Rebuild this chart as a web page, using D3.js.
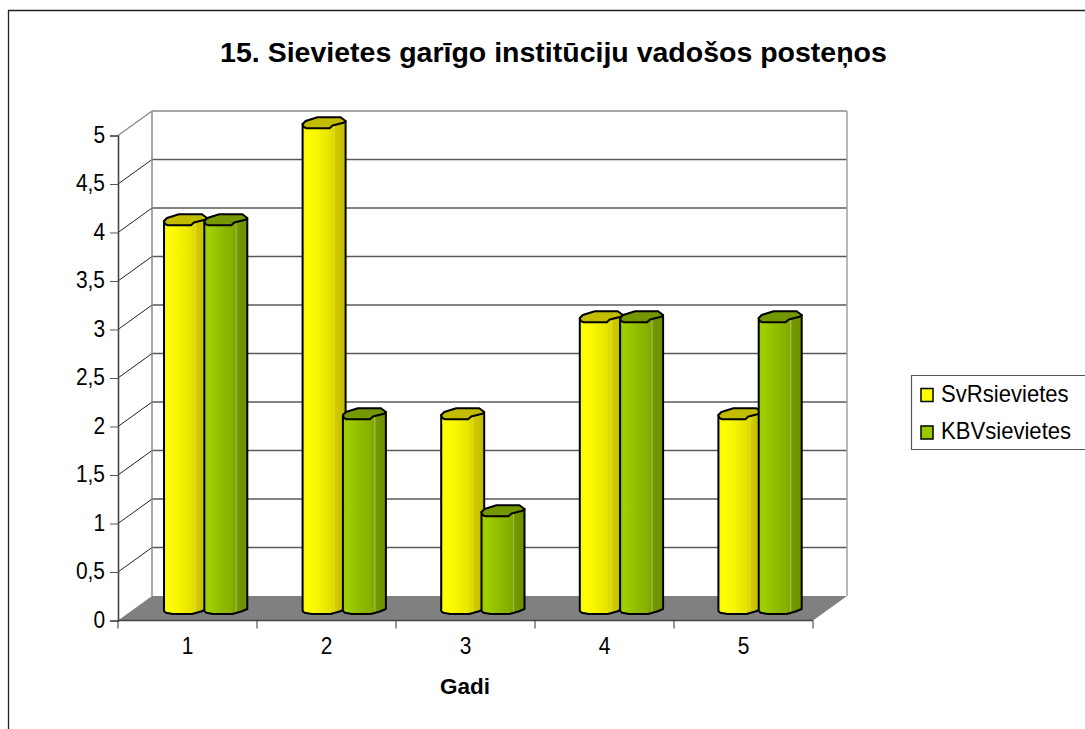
<!DOCTYPE html>
<html><head><meta charset="utf-8">
<script src="https://cdn.jsdelivr.net/npm/d3@7"></script>
<style>html,body{margin:0;padding:0;background:#fff;overflow:hidden}svg{display:block}text{font-family:"Liberation Sans",Arial,sans-serif;fill:#000}</style>
</head><body><svg id="c" width="1085" height="729"></svg>
<script>
const categories = ["1","2","3","4","5"];
const seriesNames = ["SvRsievietes","KBVsievietes"];
const svrValues = [4,5,2,3,2];
const kbvValues = [4,2,1,3,3];
const yTicks = [0,0.5,1,1.5,2,2.5,3,3.5,4,4.5,5];
const titleText = "15. Sievietes garīgo institūciju vadošos posteņos";
const xTitle = "Gadi";

const svg = d3.select("#c");
const x = d3.scaleBand().domain(categories).range([118,813]);
const xBar = d3.scaleBand().domain(categories).range([164,857]);
const y = d3.scaleLinear().domain([0,5]).range([620.5,135.5]);
const dx = 34, dy = -24.5;
const fmt = v => String(v).replace(".",",");

// frame
svg.append("path").attr("d","M8.5,729V10.5H1085").attr("fill","none").attr("stroke","#222").attr("stroke-width",1.3);

// gradients
const defs = svg.append("defs");
function grad(id,stops){
  const g = defs.append("linearGradient").attr("id",id);
  stops.forEach(s=>g.append("stop").attr("offset",s[0]).attr("stop-color",s[1]));
}
grad("gy",[[0,"#f8f800"],[.1,"#ffff00"],[.35,"#f6f500"],[.62,"#e8e400"],[.72,"#dcd800"],[.74,"#e2dc30"],[.76,"#d0cb00"],[1,"#c2bc00"]]);
grad("gg",[[0,"#98c800"],[.1,"#a0d000"],[.35,"#92bf00"],[.62,"#88b000"],[.72,"#80a600"],[.74,"#a8c050"],[.77,"#749800"],[1,"#6c9000"]]);
const topCol = ["#c2bc00","#749900"];

// back wall + floor
const [x0,x1] = x.range();
svg.append("path").attr("d",`M${x0},${y(0)}L${x0+dx},${y(0)+dy}H${x1+dx}L${x1},${y(0)}Z`).attr("fill","#808080");
const wall = svg.append("g").attr("fill","none");
yTicks.forEach(t=>{
  const py=y(t)+dy;
  if(t>0) wall.append("line").attr("x1",x0+dx).attr("x2",x1+dx).attr("y1",py).attr("y2",py).attr("stroke",t===5?"#8a8a8a":"#5a5a5a").attr("stroke-width",1.4);
  if(t>0) wall.append("line").attr("x1",x0).attr("x2",x0+dx).attr("y1",y(t)).attr("y2",py).attr("stroke",t===5?"#8a8a8a":"#222").attr("stroke-width",t===5?1.4:1);
});
wall.append("line").attr("x1",x0+dx).attr("x2",x0+dx).attr("y1",y(5)+dy).attr("y2",y(0)+dy).attr("stroke","#8a8a8a").attr("stroke-width",1.5);
wall.append("line").attr("x1",x1+dx).attr("x2",x1+dx).attr("y1",y(5)+dy).attr("y2",y(0)+dy).attr("stroke","#a0a0a0").attr("stroke-width",1.5);

// axes
const ay = svg.append("g").attr("transform",`translate(${x0},0)`)
  .call(d3.axisLeft(y).tickValues(yTicks).tickFormat(fmt).tickSize(8).tickPadding(4));
const ax = svg.append("g").attr("transform",`translate(0,${y(0)})`)
  .call(d3.axisBottom(x).tickSize(0).tickPadding(17));
const edges = categories.map(c=>x(c)).concat([x1]);
edges.forEach(e=>svg.append("line").attr("x1",e).attr("x2",e).attr("y1",y(0)).attr("y2",y(0)+8).attr("stroke","#333").attr("stroke-width",1));
[ay,ax].forEach(a=>{
  a.attr("font-family",null).attr("font-size",null);
  a.selectAll("path").attr("stroke","#444").attr("stroke-width",1.6);
  a.selectAll("line").attr("stroke","#555");
  a.selectAll("text").style("font-size","23.5px").attr("fill","#000").attr("transform","scale(.89,1)");
});
ay.selectAll("text").attr("x",-14.6).attr("dy","0.28em");
ax.selectAll("text").attr("transform",null).attr("text-anchor","middle").each(function(){
  d3.select(this).attr("transform","scale(.89,1)").attr("x",0);
});
ax.select("path").attr("d",`M${x0},0H${x1}`);

// bars
const barW = 43, pairStep = 40.3;
const barLeft = (c,s) => xBar(c) + s*pairStep;
const yMid = v => y(v)-11.5;
const topShape = [[0,0],[3,-3],[15,-6.7],[38,-6.7],[43,-3],[41,-1.3],[30,1.5],[27,4.3],[4,4.3],[1,3]];
const baseShape = [[43,0],[37,2.5],[28,5],[9,5],[2,3.7],[0,2]];
const line = d3.line();
const bars = svg.append("g").attr("stroke","#000").attr("stroke-width",2).attr("stroke-linejoin","round");
categories.forEach((c,i)=>{
  [svrValues,kbvValues].forEach((vals,s)=>{
    const l = barLeft(c,s), ty = yMid(vals[i]), by = yMid(0);
    const body = [[l,ty],[l+barW,ty-3]].concat(baseShape.map(p=>[l+p[0],by+p[1]]));
    bars.append("path").attr("d",line(body)+"Z").attr("fill",`url(#${s?"gg":"gy"})`);
    bars.append("path").attr("d",line(topShape.map(p=>[l+p[0],ty+p[1]]))+"Z").attr("fill",topCol[s]);
  });
});

// titles
svg.append("text").attr("x",553.5).attr("y",62).attr("text-anchor","middle").attr("font-weight","bold").attr("font-size",28.5).text(titleText);
svg.append("text").attr("x",465).attr("y",694).attr("text-anchor","middle").attr("font-weight","bold").attr("font-size",22.5).text(xTitle);

// legend
const lg = svg.append("g");
lg.append("path").attr("d","M1085,375.5H911.5V449.5H1085").attr("fill","#fff").attr("stroke","#555").attr("stroke-width",1.2);
seriesNames.forEach((n,i)=>{
  const ly = 394.5+i*37.5;
  lg.append("rect").attr("x",921).attr("y",ly-6).attr("width",12).attr("height",13).attr("fill",i?"#99cc00":"#ffff00").attr("stroke","#000").attr("stroke-width",1.5);
  lg.append("text").attr("transform",`translate(941,${ly+7}) scale(.94,1)`).attr("font-size",23.5).text(n);
});
</script></body></html>
